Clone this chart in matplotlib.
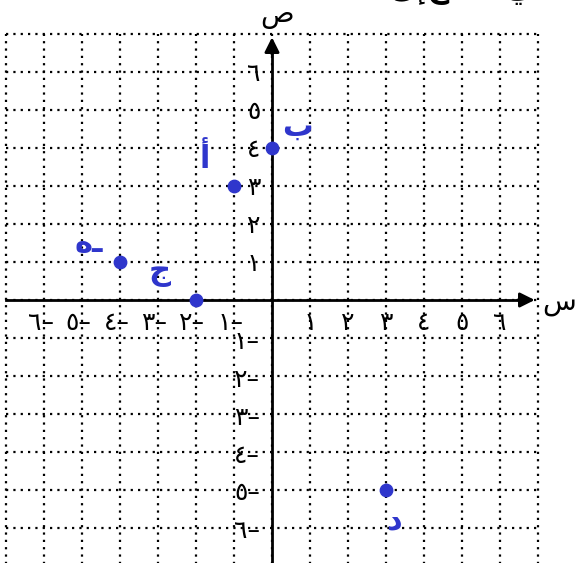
import matplotlib
matplotlib.use("Agg")
import matplotlib.pyplot as plt

plt.rcParams['font.family'] = ['DejaVu Sans']

# axis ticks and their arabic-indic labels
tick_vals = [1, 2, 3, 4, 5, 6]
digits = ["١", "٢", "٣", "٤", "٥", "٦"]

# plotted points and their letters
pt_x = [0, -1, -4, -2, 3]
pt_y = [4, 3, 1, 0, -5]
pt_names = ["ب", "أ", "هـ", "ج", "د"]

# where each letter sits relative to its point (data units)
name_dx = [0.66, -0.76, -0.84, -0.95, 0.22]
name_dy = [0.55, 0.72, 0.50, 0.72, -0.82]

blue = "#2f36cc"
unit = 37.93  # pixels per unit

fig = plt.figure(figsize=(5.78, 5.63), dpi=100)
ax = fig.add_axes([0, 0, 1, 1])
ax.set_xlim(-272 / unit, (578 - 272) / unit)
ax.set_ylim(-(563 - 300) / unit, 300 / unit)
ax.axis("off")

# dotted grid
dot = dict(color="black", linewidth=1.6, linestyle=(0, (1, 2.3)), zorder=1)
for k in range(-7, 8):
    ax.plot([k, k], [-8, 7], **dot)
for k in range(-7, 8):
    ax.plot([-7, 7], [k, k], **dot)

# axes with arrows
ax.plot([-7, 6.6], [0, 0], color="black", linewidth=2, zorder=2)
ax.plot([0, 0], [-8, 6.6], color="black", linewidth=2, zorder=2)
ax.annotate("", xy=(7, 0), xytext=(6.4, 0),
            arrowprops=dict(arrowstyle="-|>", color="black", lw=2,
                            mutation_scale=22), zorder=3)
ax.annotate("", xy=(0, 7), xytext=(0, 6.4),
            arrowprops=dict(arrowstyle="-|>", color="black", lw=2,
                            mutation_scale=22), zorder=3)

ax.text(7.58, -0.05, "س", fontsize=20, ha="center", va="center")
ax.text(0.12, 7.52, "ص", fontsize=20, ha="center", va="center")

# tick labels
lab = dict(fontsize=18, ha="center", va="center")
for v, d in zip(tick_vals, digits):
    ax.text(v, -0.6, d, **lab)
    ax.text(-v - 0.1, -0.6, d + "–", **lab)
    ax.text(-0.48, v - 0.05, d, **lab)
    ax.text(-0.66, -v - 0.1, d + "–", **lab)

# points and letters
ax.scatter(pt_x, pt_y, s=80, color=blue, zorder=5)
for x, y, n, dx, dy in zip(pt_x, pt_y, pt_names, name_dx, name_dy):
    ax.text(x + dx, y + dy, n, fontsize=22, color=blue, fontweight="bold",
            ha="center", va="center", zorder=5)

# cut-off heading at top
ax.text(4.9, 8.2, "الإحداثي", fontsize=22, fontweight="bold",
        ha="center", va="center")

fig.savefig("out.png", dpi=100)
